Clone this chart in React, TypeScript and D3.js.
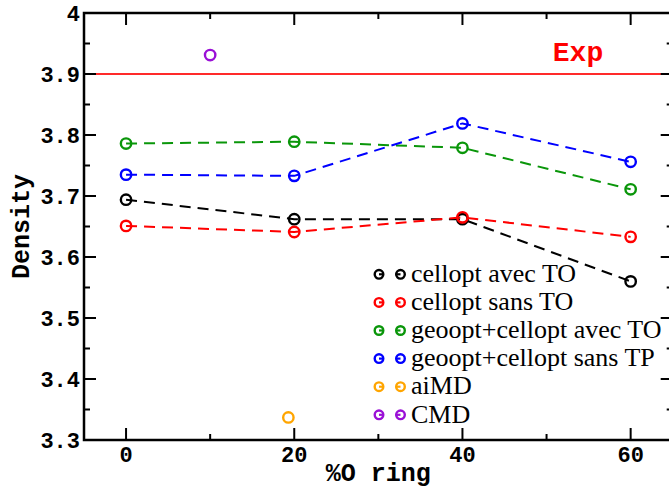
import React from 'react';
import * as d3 from 'd3';

const xValues = [0, 20, 40, 60];
const celloptAvecTO = [3.694, 3.662, 3.662, 3.56];
const celloptSansTO = [3.651, 3.641, 3.665, 3.633];
const geooptAvecTO = [3.786, 3.789, 3.779, 3.711];
const geooptSansTP = [3.735, 3.733, 3.819, 3.756];
const aiMDx = [19.3];
const aiMDy = [3.337];
const cmdX = [10];
const cmdY = [3.931];
const expValue = 3.9;
const xTicks = [0, 20, 40, 60];
const xMinorTicks = [10, 30, 50];
const yTicks = [3.3, 3.4, 3.5, 3.6, 3.7, 3.8, 3.9, 4.0];
const yMinorTicks = [3.35, 3.45, 3.55, 3.65, 3.75, 3.85, 3.95];
const legendLabels = [
  'cellopt avec TO',
  'cellopt sans TO',
  'geoopt+cellopt avec TO',
  'geoopt+cellopt sans TP',
  'aiMD',
  'CMD',
];

const colors = ['#000000', '#ff0000', '#0a960a', '#0000ff', '#ffa500', '#9a10d6'];

type Pt = { x: number; y: number };
const series: { pts: Pt[]; dashed: boolean }[] = [
  { pts: xValues.map((x, i) => ({ x, y: celloptAvecTO[i] })), dashed: true },
  { pts: xValues.map((x, i) => ({ x, y: celloptSansTO[i] })), dashed: true },
  { pts: xValues.map((x, i) => ({ x, y: geooptAvecTO[i] })), dashed: true },
  { pts: xValues.map((x, i) => ({ x, y: geooptSansTP[i] })), dashed: true },
  { pts: aiMDx.map((x, i) => ({ x, y: aiMDy[i] })), dashed: false },
  { pts: cmdX.map((x, i) => ({ x, y: cmdY[i] })), dashed: false },
];

const W = 669;
const H = 491;
const L = 84;
const R = 672.7;
const T = 13;
const B = 440;

export default function App() {
  const x = d3.scaleLinear().domain([-5, 65]).range([L, R]);
  const y = d3.scaleLinear().domain([3.3, 4.0]).range([B, T]);
  const line = d3
    .line<Pt>()
    .x((d) => x(d.x))
    .y((d) => y(d.y));
  const mono = "'Liberation Mono', 'Courier New', monospace";
  const serif = "'Liberation Serif', 'Times New Roman', serif";
  const fmt = (v: number) => String(Number(v.toFixed(2)));

  const legX1 = 379;
  const legX2 = 400.5;
  const legTextX = 411;
  const legBase0 = 282;
  const legStep = 28.1;

  return (
    <svg
      width={W}
      height={H}
      style={{ position: 'absolute', left: 0, top: 0, background: '#fff' }}
    >
      <rect x={0} y={0} width={W} height={H} fill="#fff" />
      {/* Exp line */}
      <line x1={L} x2={R} y1={y(expValue)} y2={y(expValue)} stroke="#ff2a2a" strokeWidth={2} />
      <text
        x={578}
        y={61}
        textAnchor="middle"
        fontFamily={mono}
        fontWeight="bold"
        fontSize={28}
        fill="#ff0000"
      >
        Exp
      </text>

      {/* series */}
      {series.map((s, i) => (
        <g key={i}>
          {s.dashed && s.pts.length > 1 && (
            <path
              d={line(s.pts) || ''}
              fill="none"
              stroke={colors[i]}
              strokeWidth={2}
              strokeDasharray="11,7"
            />
          )}
          {s.pts.map((p, j) => (
            <circle
              key={j}
              cx={x(p.x)}
              cy={y(p.y)}
              r={5.2}
              fill="none"
              stroke={colors[i]}
              strokeWidth={2.4}
            />
          ))}
        </g>
      ))}

      {/* axes frame */}
      <rect x={L} y={T} width={R - L} height={B - T} fill="none" stroke="#000" strokeWidth={2.5} />
      {/* x ticks */}
      {xTicks.map((t) => (
        <g key={'xt' + t}>
          <line x1={x(t)} x2={x(t)} y1={B} y2={B - 12} stroke="#000" strokeWidth={2} />
          <line x1={x(t)} x2={x(t)} y1={T} y2={T + 12} stroke="#000" strokeWidth={2} />
          <text
            x={x(t)}
            y={462}
            textAnchor="middle"
            fontFamily={mono}
            fontWeight="bold"
            fontSize={22}
            fill="#000"
          >
            {fmt(t)}
          </text>
        </g>
      ))}
      {xMinorTicks.map((t) => (
        <g key={'xm' + t}>
          <line x1={x(t)} x2={x(t)} y1={B} y2={B - 6} stroke="#000" strokeWidth={2} />
          <line x1={x(t)} x2={x(t)} y1={T} y2={T + 6} stroke="#000" strokeWidth={2} />
        </g>
      ))}
      {/* y ticks */}
      {yTicks.map((t) => (
        <g key={'yt' + t}>
          <line x1={L} x2={L + 12} y1={y(t)} y2={y(t)} stroke="#000" strokeWidth={2} />
          <line x1={R} x2={R - 12} y1={y(t)} y2={y(t)} stroke="#000" strokeWidth={2} />
          <text
            x={80}
            y={y(t)}
            dy="0.36em"
            textAnchor="end"
            fontFamily={mono}
            fontWeight="bold"
            fontSize={22}
            fill="#000"
          >
            {fmt(t)}
          </text>
        </g>
      ))}
      {yMinorTicks.map((t) => (
        <g key={'ym' + t}>
          <line x1={L} x2={L + 6} y1={y(t)} y2={y(t)} stroke="#000" strokeWidth={2} />
          <line x1={R} x2={R - 6} y1={y(t)} y2={y(t)} stroke="#000" strokeWidth={2} />
        </g>
      ))}

      {/* axis titles */}
      <text
        x={(L + R) / 2}
        y={481}
        textAnchor="middle"
        fontFamily={mono}
        fontWeight="bold"
        fontSize={25}
        fill="#000"
      >
        %O ring
      </text>
      <text
        transform={`translate(29, ${(T + B) / 2}) rotate(-90)`}
        textAnchor="middle"
        fontFamily={mono}
        fontWeight="bold"
        fontSize={25}
        fill="#000"
      >
        Density
      </text>

      {/* legend */}
      {legendLabels.map((lab, i) => {
        const base = legBase0 + i * legStep;
        const cy = base - 7.7;
        return (
          <g key={'lg' + i}>
            <line x1={legX1} x2={legX1 + 5} y1={cy} y2={cy} stroke={colors[i]} strokeWidth={2.2} />
            <line x1={legX2 - 5} x2={legX2} y1={cy} y2={cy} stroke={colors[i]} strokeWidth={2.2} />
            <circle cx={legX1} cy={cy} r={4.3} fill="none" stroke={colors[i]} strokeWidth={2.4} />
            <circle cx={legX2} cy={cy} r={4.3} fill="none" stroke={colors[i]} strokeWidth={2.4} />
            <text x={legTextX} y={base} fontFamily={serif} fontSize={26} fill="#000">
              {lab}
            </text>
          </g>
        );
      })}
    </svg>
  );
}
